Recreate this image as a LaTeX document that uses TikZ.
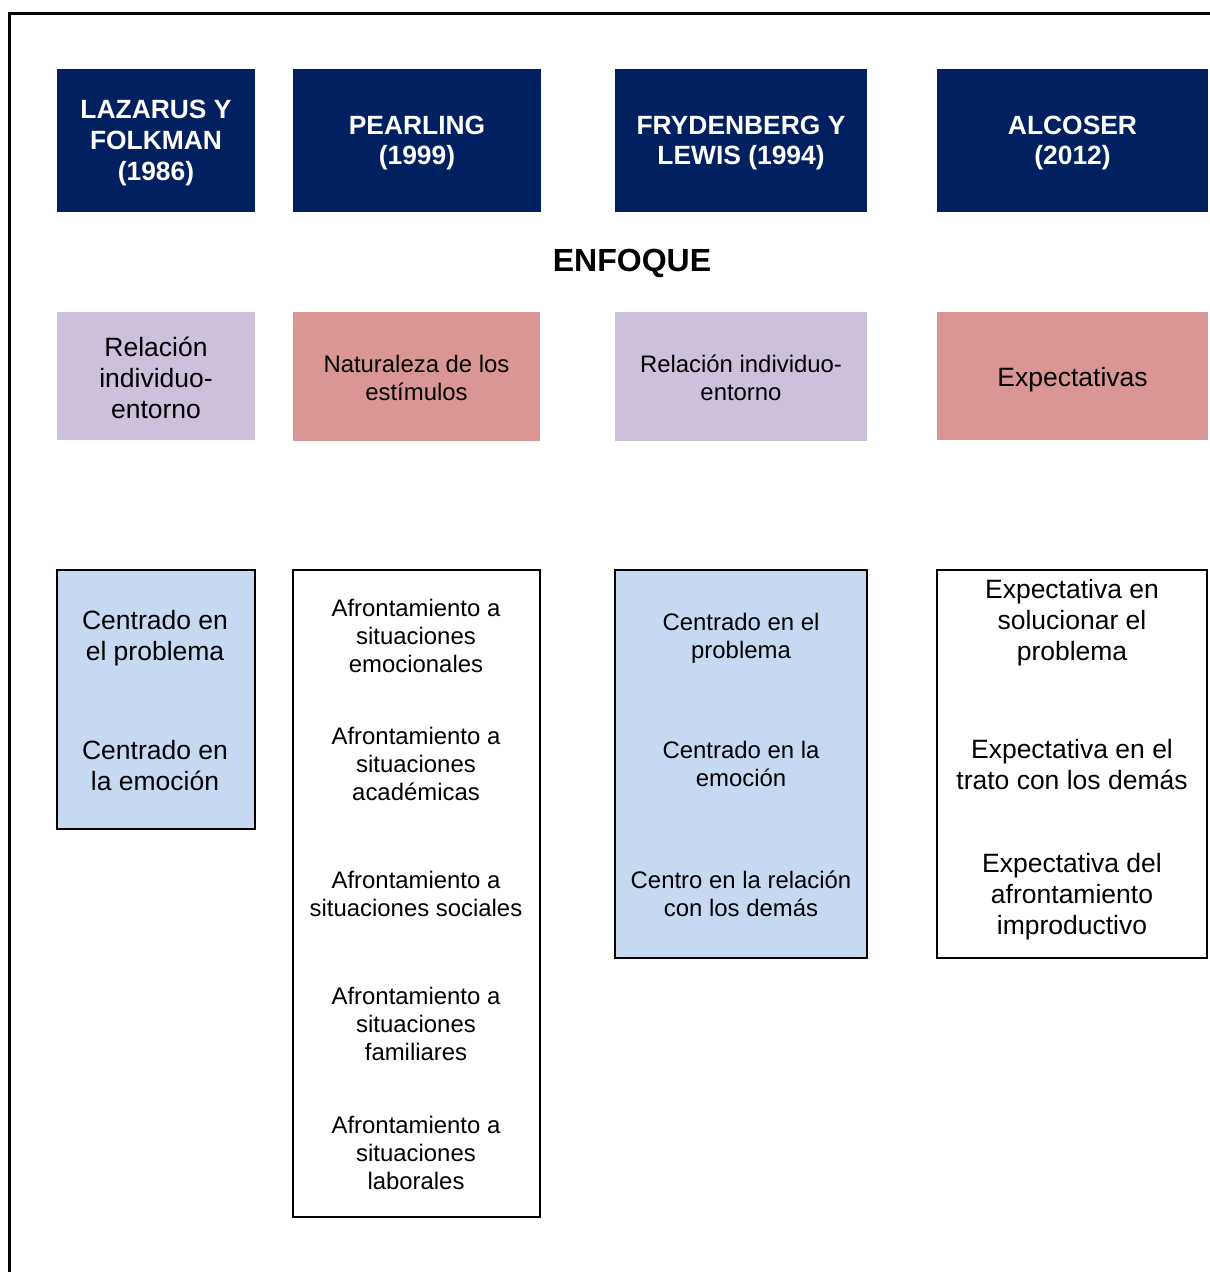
\documentclass[tikz,border=0pt]{standalone}
\usepackage{fontspec}
\setmainfont{Liberation Sans}
\definecolor{navy}{HTML}{002060}
\definecolor{lav}{HTML}{CCC0DA}
\definecolor{pinkc}{HTML}{DA9694}
\definecolor{lblue}{HTML}{C6D9F1}
\begin{document}
\begin{tikzpicture}[x=1pt,y=-1pt,
  hdr/.style={fill=navy,inner sep=0pt},
  hdrtxt/.style={text=white,inner sep=0pt,align=center,font=\bfseries\fontsize{26.4}{30.7}\selectfont},
  cat/.style={inner sep=0pt},
  big/.style={font=\fontsize{26.5}{31}\selectfont},
  small/.style={font=\fontsize{23.9}{28}\selectfont},
  col/.style={draw=black,line width=2pt,inner sep=0pt},
  txt/.style={inner sep=0pt,align=center}]
\useasboundingbox (0,0) rectangle (1210,1272);
\draw[line width=3pt] (9,1272) -- (9,13) -- (1210,13);
% headers
\node[hdr,minimum width=198pt,minimum height=143pt] (h1) at (156,140.5) {};
\node[hdr,minimum width=248pt,minimum height=143pt] (h2) at (417,140.5) {};
\node[hdr,minimum width=252pt,minimum height=143pt] (h3) at (741,140.5) {};
\node[hdr,minimum width=271pt,minimum height=143pt] (h4) at (1072.5,140.5) {};
\node[hdrtxt] (h1t) at (156,143) {LAZARUS Y\\FOLKMAN\\(1986)};
\node[hdrtxt] (h2t) at (417,143) {PEARLING\\(1999)};
\node[hdrtxt] (h3t) at (741,143) {FRYDENBERG Y\\LEWIS (1994)};
\node[hdrtxt] (h4t) at (1072.5,143) {ALCOSER\\(2012)};
\node[txt,font=\bfseries\fontsize{32}{36}\selectfont] (enf) at (632,263.5) {ENFOQUE};
% enfoque row
\node[cat,fill=lav,minimum width=198pt,minimum height=128pt] (e1) at (156,376) {};
\node[cat,fill=pinkc,minimum width=247pt,minimum height=129pt] (e2) at (416.5,376.5) {};
\node[cat,fill=lav,minimum width=252pt,minimum height=129pt] (e3) at (741,376.5) {};
\node[cat,fill=pinkc,minimum width=271pt,minimum height=128pt] (e4) at (1072.5,376) {};
\node[txt,big] (e1t) at (156,378) {Relación\\individuo-\\entorno};
\node[txt,small] (e2t) at (416.5,378) {Naturaleza de los\\estímulos};
\node[txt,small] (e3t) at (741,378) {Relación individuo-\\entorno};
\node[txt,big] (e4t) at (1072.5,380) {Expectativas};
% column boxes
\node[col,fill=lblue,minimum width=198pt,minimum height=259pt] (c1) at (156,699.5) {};
\node[col,fill=white,minimum width=247pt,minimum height=647pt] (c2) at (416.5,893.5) {};
\node[col,fill=lblue,minimum width=252pt,minimum height=388pt] (c3) at (741,764) {};
\node[col,fill=white,minimum width=270pt,minimum height=388pt] (c4) at (1072,764) {};
% column 1
\node[txt,big] (c1a) at (155,638) {Centrado en\\el problema};
\node[txt,big] (c1b) at (155,766) {Centrado en\\la emoción};
% column 2
\node[txt,small] (c2a) at (416,636) {Afrontamiento a\\situaciones\\emocionales};
\node[txt,small] (c2b) at (416,764) {Afrontamiento a\\situaciones\\académicas};
\node[txt,small] (c2c) at (416,894) {Afrontamiento a\\situaciones sociales};
\node[txt,small] (c2d) at (416,1024) {Afrontamiento a\\situaciones\\familiares};
\node[txt,small] (c2e) at (416,1153) {Afrontamiento a\\situaciones\\laborales};
% column 3
\node[txt,small] (c3a) at (741,638) {Centrado en el\\problema};
\node[txt,small] (c3b) at (741,764) {Centrado en la\\emoción};
\node[txt,small] (c3c) at (741,894) {Centro en la relación\\con los demás};
% column 4
\node[txt,big] (c4a) at (1072,623) {Expectativa en\\solucionar el\\problema};
\node[txt,big] (c4b) at (1072,765) {Expectativa en el\\trato con los demás};
\node[txt,big] (c4c) at (1072,897) {Expectativa del\\afrontamiento\\improductivo};
\end{tikzpicture}
\end{document}
